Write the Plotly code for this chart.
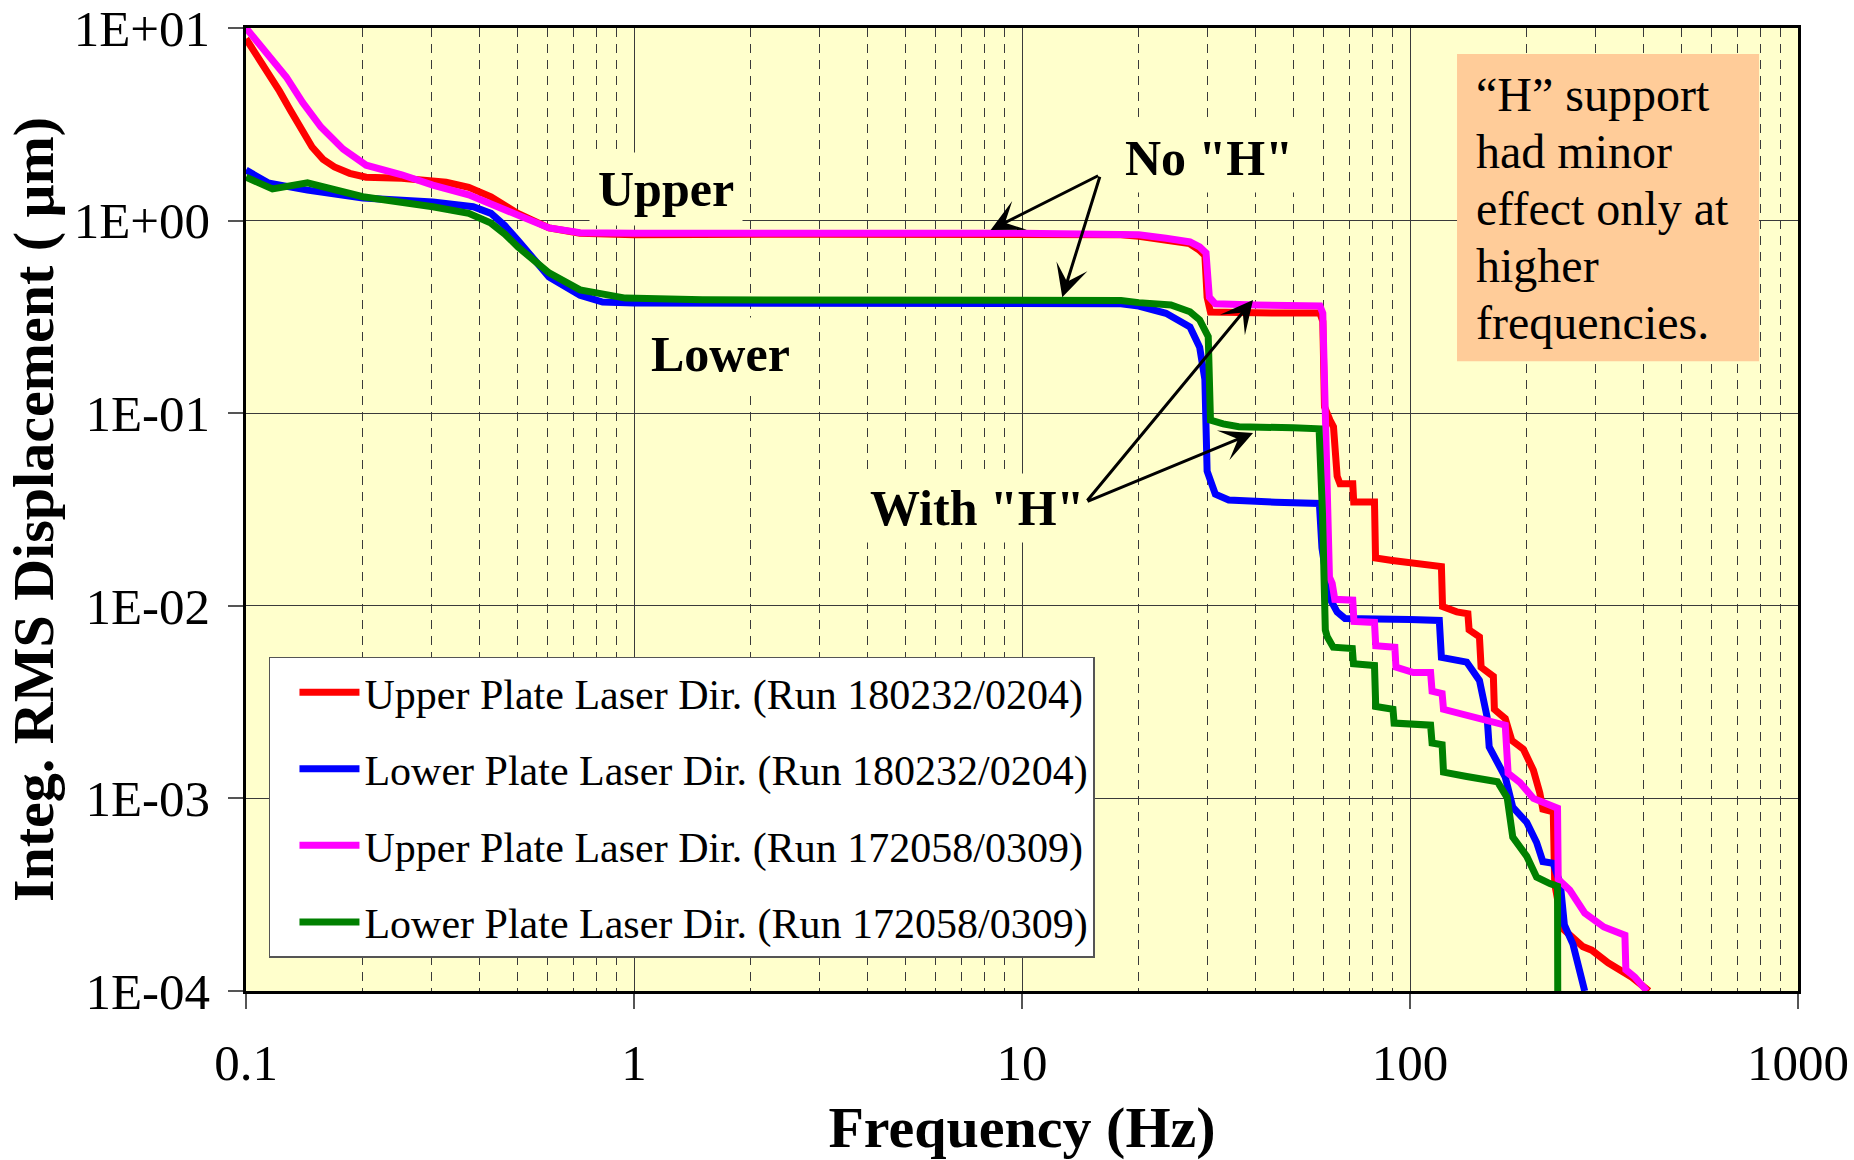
import numpy as np
import plotly.graph_objects as go

# ---------------- data ----------------
# Upper Plate Laser Dir. (Run 180232/0204)  - red
up_a_freq = [0.1, 0.107, 0.114, 0.122, 0.13, 0.139, 0.148, 0.158, 0.169, 0.185, 0.204, 0.252, 0.328,
             0.375, 0.428, 0.502, 0.604, 0.726, 1.0, 3.0, 10, 18, 20, 23.5, 27, 28.7, 29.6, 30.0,
             30.6, 40, 58.6, 59.6, 60.2, 62.2, 63.5, 64.9, 66, 71.2, 71.6, 81, 81.5, 90, 102, 120.5,
             121.3, 132, 141, 142, 151, 152.5, 164, 165, 176, 183, 196, 208, 216, 220, 234, 236, 248,
             279, 294, 324, 373, 413]
up_a_disp = [8.8, 7.2, 5.8, 4.7, 3.75, 3.0, 2.41, 2.08, 1.9, 1.76, 1.68, 1.66, 1.58,
             1.49, 1.33, 1.09, 0.916, 0.86, 0.845, 0.85, 0.85, 0.845, 0.83, 0.79, 0.76, 0.70, 0.66,
             0.40, 0.335, 0.332, 0.331, 0.30, 0.108, 0.092, 0.085, 0.047, 0.043, 0.043, 0.0346,
             0.0346, 0.0177, 0.0172, 0.0167, 0.016, 0.0099, 0.0093, 0.0091, 0.0075, 0.0069, 0.0048,
             0.0043, 0.0029, 0.0026, 0.0020, 0.0018, 0.0014, 0.00107, 0.00088, 0.00085, 0.00036,
             0.00021, 0.00017, 0.000163, 0.00014, 0.000118, 0.0001]

# Lower Plate Laser Dir. (Run 180232/0204)  - blue
lo_a_freq = [0.1, 0.114, 0.144, 0.2, 0.303, 0.385, 0.428, 0.465, 0.502, 0.55, 0.604, 0.726, 0.83,
             1.0, 10, 18, 20, 23.5, 27.1, 28.7, 29.6, 30.0, 31.5, 34.1, 45, 58.4, 59.3, 60.5, 62,
             64.9, 68, 100, 119, 120.5, 140, 151, 158, 160, 168, 176, 184, 200, 212, 220, 234, 244,
             250, 263, 282]
lo_a_disp = [1.83, 1.57, 1.44, 1.31, 1.25, 1.18, 1.09, 0.94, 0.79, 0.63, 0.51, 0.41, 0.378,
             0.373, 0.372, 0.37, 0.36, 0.33, 0.28, 0.22, 0.15, 0.05, 0.038, 0.0354, 0.0345, 0.034,
             0.02, 0.0153, 0.011, 0.0093, 0.0086, 0.0085, 0.0084, 0.0054, 0.0051, 0.0041, 0.00265,
             0.00185, 0.0015, 0.00129, 0.0009, 0.00075, 0.00059, 0.00047, 0.00046, 0.00036, 0.00022,
             0.000175, 0.0001]

# Upper Plate Laser Dir. (Run 172058/0309)  - magenta
up_b_freq = [0.1, 0.113, 0.127, 0.14, 0.156, 0.178, 0.204, 0.252, 0.303, 0.375, 0.488, 0.604, 0.726,
             1.0, 10, 18, 20, 23.5, 27.1, 28.7, 29.8, 30.4, 31.5, 40, 58.6, 59.6, 60.5, 61.2, 62, 63,
             64, 71.2, 71.7, 81, 81.6, 91.4, 92, 102, 113, 114, 121, 122, 140, 168, 176, 179, 192,
             208, 240, 241, 258, 282, 316, 358, 360, 380, 408]
up_b_disp = [10.0, 7.4, 5.57, 4.1, 3.06, 2.35, 1.94, 1.73, 1.53, 1.36, 1.09, 0.916, 0.865,
             0.86, 0.86, 0.86, 0.845, 0.81, 0.775, 0.73, 0.68, 0.40, 0.37, 0.365, 0.36, 0.33, 0.1,
             0.02, 0.0141, 0.0131, 0.0108, 0.0107, 0.0083, 0.0082, 0.0062, 0.0061, 0.0048, 0.0045,
             0.0045, 0.0036, 0.0035, 0.0029, 0.0027, 0.0025, 0.0024, 0.00135, 0.00121, 0.001,
             0.00089, 0.00038, 0.000334, 0.000254, 0.000215, 0.000195, 0.000129, 0.000118, 0.0001]

# Lower Plate Laser Dir. (Run 172058/0309)  - green
lo_b_freq = [0.1, 0.117, 0.144, 0.2, 0.303, 0.375, 0.428, 0.465, 0.502, 0.55, 0.604, 0.726, 0.95,
             1.5, 10, 18, 20, 24.2, 27.1, 28.7, 30.2, 30.6, 33, 36.2, 50, 58.3, 59.5, 60.5, 61.2,
             63.4, 71, 71.5, 81, 81.6, 90.4, 91, 113, 114, 121, 122, 140, 168, 178, 184, 200, 212,
             230, 240, 240.5]
lo_b_disp = [1.68, 1.46, 1.57, 1.33, 1.18, 1.09, 0.97, 0.85, 0.73, 0.62, 0.535, 0.437, 0.396,
             0.388, 0.387, 0.385, 0.375, 0.365, 0.336, 0.305, 0.25, 0.092, 0.088, 0.085, 0.084,
             0.083, 0.03, 0.0075, 0.0069, 0.0061, 0.006, 0.005, 0.0049, 0.003, 0.0029, 0.00246,
             0.0024, 0.00194, 0.0019, 0.00137, 0.0013, 0.00122, 0.00101, 0.00063, 0.0005, 0.00039,
             0.00036, 0.00035, 0.00005]

series_names = ["Upper Plate Laser Dir. (Run 180232/0204)",
                "Lower Plate Laser Dir. (Run 180232/0204)",
                "Upper Plate Laser Dir. (Run 172058/0309)",
                "Lower Plate Laser Dir. (Run 172058/0309)"]
series_colors = ["#FF0000", "#0000FF", "#FF00FF", "#008000"]

x_tick_vals = [0.1, 1, 10, 100, 1000]
x_tick_text = ["0.1", "1", "10", "100", "1000"]
x_minor_vals = [0.2, 0.3, 0.4, 0.5, 0.6, 0.7, 0.8, 0.9,
                2, 3, 4, 5, 6, 7, 8, 9,
                20, 30, 40, 50, 60, 70, 80, 90,
                200, 300, 400, 500, 600, 700, 800, 900]
y_tick_vals = [10, 1, 0.1, 0.01, 0.001, 0.0001]
y_tick_text = ["1E+01", "1E+00", "1E-01", "1E-02", "1E-03", "1E-04"]

note_lines = ["“H” support", "had minor", "effect only at", "higher", "frequencies."]

# arrow targets (Hz, um)
no_h_heads = [(8.3, 0.894), (12.7, 0.40)]
with_h_heads = [(39.4, 0.387), (39.4, 0.0789)]

FONT = "Liberation Serif, Times New Roman, serif"
PLOT_BG = "#FFFFCC"

fig = go.Figure()
xs = [up_a_freq, lo_a_freq, up_b_freq, lo_b_freq]
ys = [up_a_disp, lo_a_disp, up_b_disp, lo_b_disp]
for i in range(4):
    fig.add_trace(go.Scatter(x=xs[i], y=ys[i], mode="lines", name=series_names[i],
                             legendgroup="g%d" % i,
                             line=dict(color=series_colors[i], width=7)))

grid_col = "#3a3a3a"
fig.update_layout(
    width=1854, height=1160,
    margin=dict(l=246, r=56, t=28, b=169, autoexpand=False),
    paper_bgcolor="white", plot_bgcolor=PLOT_BG,
    font=dict(family=FONT, color="black"),
    showlegend=True,
    xaxis=dict(type="log", range=[-1, 3], tickvals=x_tick_vals, ticktext=x_tick_text,
               tickfont=dict(size=51), ticks="outside", ticklen=15, tickwidth=1.5, tickcolor="#555",
               ticklabelstandoff=10, automargin=False,
               showline=True, linecolor="black", linewidth=2.5, mirror=True,
               showgrid=True, gridcolor=grid_col, gridwidth=1, zeroline=False,
               minor=dict(tickvals=x_minor_vals, showgrid=True, gridcolor=grid_col, gridwidth=1,
                          griddash="9px,7px", ticks=""),
               title=dict(text="<b>Frequency (Hz)</b>", font=dict(size=58), standoff=20)),
    yaxis=dict(type="log", range=[-4, 1], tickvals=y_tick_vals, ticktext=y_tick_text,
               tickfont=dict(size=51), ticks="outside", ticklen=15, tickwidth=1.5, tickcolor="#555",
               ticklabelstandoff=8, automargin=True,
               showline=True, linecolor="black", linewidth=2.5, mirror=True,
               showgrid=True, gridcolor=grid_col, gridwidth=1, zeroline=False,
               title=dict(text="<b>Integ. RMS Displacement ( μm)</b>", font=dict(size=58), standoff=2)),
    legend=dict(x=0.0148, y=0.347, xanchor="left", yanchor="top", bgcolor="white",
                bordercolor="#555", borderwidth=1.5, font=dict(size=42, family=FONT),
                tracegroupgap=19, traceorder="grouped", itemwidth=60, indentation=24),
)

# peach note box
fig.add_shape(type="rect", xref="paper", yref="paper", x0=0.7803, x1=0.9749, y0=0.654, y1=0.973,
              fillcolor="#FFCC99", line=dict(width=0), layer="above")
for k, line in enumerate(note_lines):
    fig.add_annotation(xref="paper", yref="paper", x=0.791, y=0.9312 - k * 0.0592,
                       xanchor="left", yanchor="middle", align="left", showarrow=False,
                       text=line, font=dict(size=48, family=FONT, color="black"))

label_font = dict(size=50, family=FONT, color="black")
fig.add_annotation(x=np.log10(1.21), y=np.log10(1.46), text="<b>Upper</b>", showarrow=False,
                   font=label_font, bgcolor=PLOT_BG, borderpad=8)
fig.add_annotation(x=np.log10(1.666), y=np.log10(0.203), text="<b>Lower</b>", showarrow=False,
                   font=label_font, bgcolor=PLOT_BG, borderpad=8)
fig.add_annotation(x=np.log10(30.3), y=np.log10(2.11), text="<b>No \"H\"</b>", showarrow=False,
                   font=label_font, bgcolor=PLOT_BG, borderpad=6)
fig.add_annotation(x=np.log10(7.66), y=np.log10(0.0322), text="<b>With \"H\"</b>", showarrow=False,
                   font=label_font, bgcolor=PLOT_BG, borderpad=6)

# arrows: tails given as pixel offsets from the heads
no_h_offsets = [(109, -55), (38, -122)]
with_h_offsets = [(-167, 202), (-167, 69)]
for (hx, hy), (ox, oy) in list(zip(no_h_heads, no_h_offsets)) + list(zip(with_h_heads, with_h_offsets)):
    fig.add_annotation(x=np.log10(hx), y=np.log10(hy), ax=ox, ay=oy, text="", showarrow=True,
                       arrowhead=3, arrowsize=1.8, arrowwidth=3, arrowcolor="black")

fig.write_html("out.html")
